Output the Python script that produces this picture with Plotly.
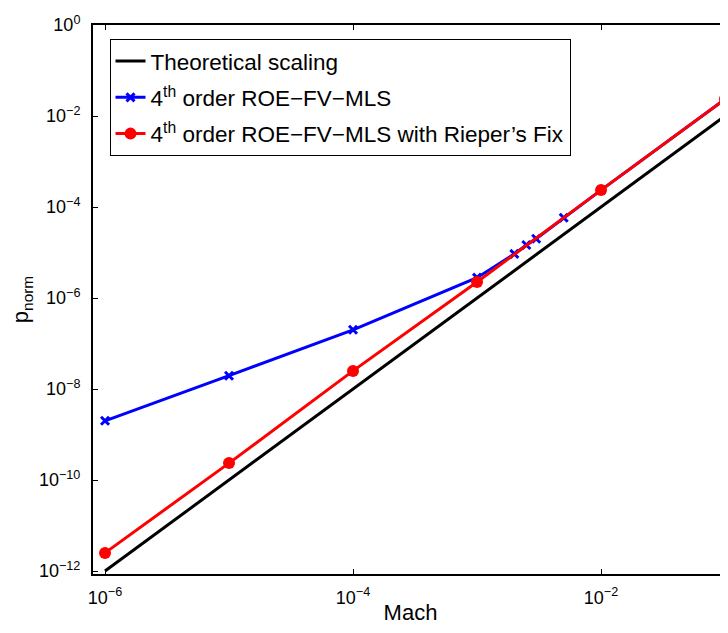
import plotly.graph_objects as go

# Data
theory_mach = [1e-6, 1e-5, 1e-4, 1e-3, 1e-2, 1e-1]
theory_p = [1e-12, 1e-10, 1e-8, 1e-6, 1e-4, 1e-2]

roe_mach = [1e-6, 1e-5, 1e-4, 1e-3, 2e-3, 2.5e-3, 3e-3, 5e-3, 1e-2, 1e-1]
roe_p = [2.0e-9, 1.96e-8, 2.0e-7, 2.8e-6, 9.3e-6, 1.46e-5, 2.0e-5, 5.8e-5, 2.35e-4, 2.35e-2]

rieper_mach = [1e-6, 1e-5, 1e-4, 1e-3, 1e-2, 1e-1]
rieper_p = [2.5e-12, 2.35e-10, 2.5e-8, 2.24e-6, 2.35e-4, 2.35e-2]

xtick_vals = [1e-6, 1e-4, 1e-2]
xtick_text = ["10<sup>−6</sup>", "10<sup>−4</sup>", "10<sup>−2</sup>"]
ytick_vals = [1e0, 1e-2, 1e-4, 1e-6, 1e-8, 1e-10, 1e-12]
ytick_text = ["10<sup>0</sup>", "10<sup>−2</sup>", "10<sup>−4</sup>", "10<sup>−6</sup>",
              "10<sup>−8</sup>", "10<sup>−10</sup>", "10<sup>−12</sup>"]

names = ["Theoretical scaling",
         "4<sup>th</sup> order ROE−FV−MLS",
         "4<sup>th</sup> order ROE−FV−MLS with Rieper’s Fix"]

fig = go.Figure()
fig.add_trace(go.Scatter(x=theory_mach, y=theory_p, mode="lines", name=names[0],
                         legendgroup="a",
                         line=dict(color="black", width=3)))
fig.add_trace(go.Scatter(x=roe_mach, y=roe_p, mode="lines+markers", name=names[1],
                         legendgroup="b",
                         line=dict(color="blue", width=3),
                         marker=dict(symbol="x-thin", size=8, color="blue",
                                     line=dict(color="blue", width=3))))
fig.add_trace(go.Scatter(x=rieper_mach, y=rieper_p, mode="lines+markers", name=names[2],
                         legendgroup="c",
                         line=dict(color="red", width=3),
                         marker=dict(symbol="circle", size=12, color="red")))

font = "Liberation Sans, Arial, Helvetica, sans-serif"
fig.update_layout(
    width=720, height=617,
    margin=dict(l=85, r=0, t=17, b=51),
    paper_bgcolor="white", plot_bgcolor="white",
    font=dict(family=font, size=18, color="black"),
    showlegend=True,
    legend=dict(x=0.026, y=0.9745, xanchor="left", yanchor="top",
                bgcolor="white", bordercolor="black", borderwidth=1,
                font=dict(family=font, size=22.5, color="black"),
                itemwidth=30, tracegroupgap=4),
)
fig.update_xaxes(type="log", range=[-6.097, -0.976], automargin=False,
                 tickvals=xtick_vals, ticktext=xtick_text,
                 ticks="inside", ticklen=5, tickwidth=1, tickcolor="black",
                 showline=True, linecolor="black", linewidth=2, mirror="ticks",
                 showgrid=False, zeroline=False, ticklabelstandoff=6,
                 title=dict(text="Mach", font=dict(size=22), standoff=2),
                 tickfont=dict(size=18))
fig.update_yaxes(type="log", range=[-12.066, 0], automargin=False,
                 tickvals=ytick_vals, ticktext=ytick_text,
                 ticks="inside", ticklen=5, tickwidth=1, tickcolor="black",
                 showline=True, linecolor="black", linewidth=2, mirror="ticks",
                 showgrid=False, zeroline=False, ticklabelstandoff=7,
                 title=dict(text="p<sub>norm</sub>", font=dict(size=22), standoff=4),
                 tickfont=dict(size=18))

fig.write_html("out.html")
